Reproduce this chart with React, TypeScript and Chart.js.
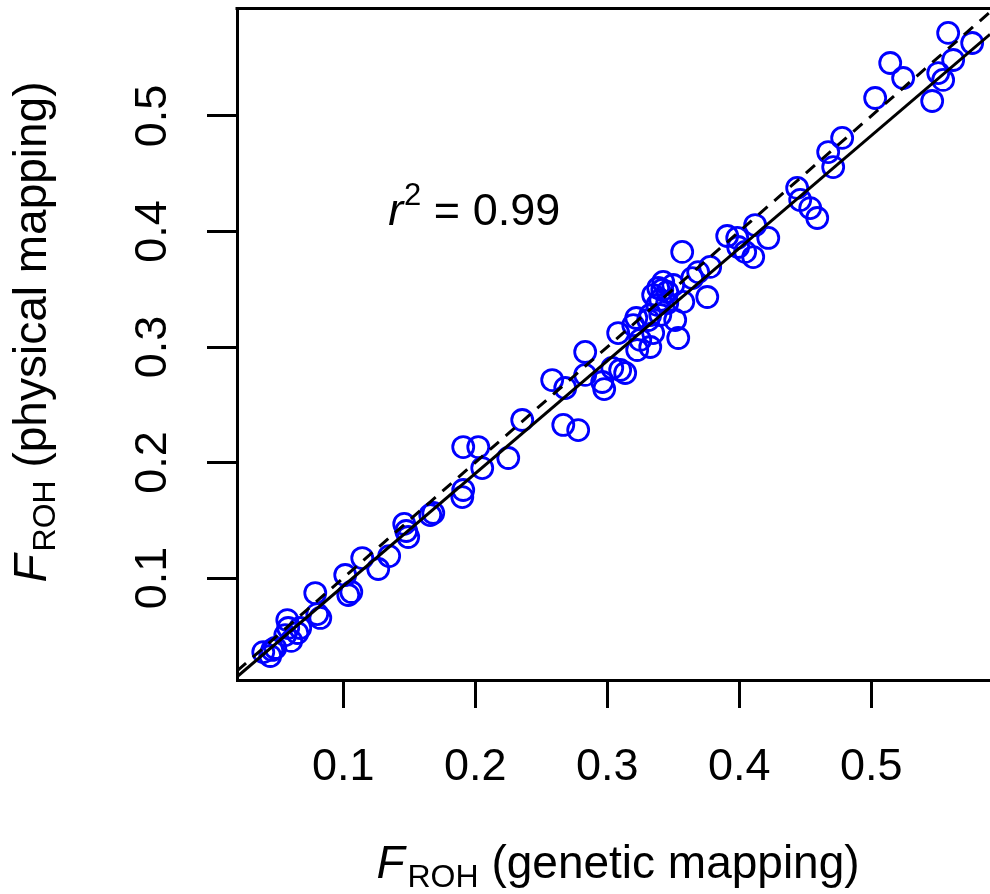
import React, { useEffect, useRef } from "react";
import { Chart, registerables } from "chart.js";

Chart.register(...registerables);

// F_ROH from genetic mapping (x) and physical mapping (y)
const geneticF = [
  0.0394, 0.0447, 0.0485, 0.0462, 0.0576, 0.0583, 0.0606, 0.0561, 0.0674, 0.0652,
  0.0803, 0.0826, 0.0788, 0.1015, 0.1038, 0.1061, 0.1144, 0.1265, 0.1348, 0.1462,
  0.1477, 0.1492, 0.1659, 0.1682, 0.1909, 0.2023, 0.2053, 0.1909, 0.1902, 0.2250,
  0.2356, 0.2583, 0.2682, 0.2667, 0.2780, 0.2833, 0.2833, 0.2962, 0.2977, 0.3038,
  0.3098, 0.3136, 0.3083, 0.3197, 0.3227, 0.3250, 0.3326, 0.3348, 0.3311, 0.3402,
  0.3515, 0.3538, 0.3220, 0.3326, 0.3379, 0.3455, 0.3576, 0.3424, 0.3386, 0.3348,
  0.3455, 0.3402, 0.3500, 0.3417, 0.3568, 0.3689, 0.3780, 0.3644, 0.3758, 0.3909,
  0.3985, 0.3992, 0.4045, 0.4106, 0.4121, 0.4220, 0.4439, 0.4462, 0.4538, 0.4591,
  0.4674, 0.4712, 0.4780, 0.5030, 0.5144, 0.5242, 0.5462, 0.5508, 0.5545, 0.5621,
  0.5583, 0.5765,
];
const physicalF = [
  0.0359, 0.0325, 0.0394, 0.0377, 0.0636, 0.0567, 0.0455, 0.0506, 0.0567, 0.0524,
  0.0688, 0.0654, 0.0870, 0.1026, 0.0853, 0.0879, 0.1173, 0.1078, 0.1190, 0.1468,
  0.1407, 0.1355, 0.1545, 0.1563, 0.2134, 0.2134, 0.1952, 0.1762, 0.1701, 0.2039,
  0.2368, 0.2714, 0.2645, 0.2325, 0.2281, 0.2957, 0.2758, 0.2697, 0.2636, 0.2818,
  0.2801, 0.2775, 0.3121, 0.3190, 0.2974, 0.3061, 0.3000, 0.3121, 0.3234, 0.3277,
  0.3234, 0.3078, 0.3251, 0.3277, 0.3364, 0.3381, 0.3390, 0.3563, 0.3511, 0.3450,
  0.3476, 0.3407, 0.3537, 0.3494, 0.3823, 0.3649, 0.3693, 0.3597, 0.3433, 0.3961,
  0.3944, 0.3866, 0.3823, 0.3779, 0.4056, 0.3944, 0.4377, 0.4273, 0.4203, 0.4117,
  0.4688, 0.4558, 0.4810, 0.5156, 0.5459, 0.5329, 0.5130, 0.5372, 0.5312, 0.5485,
  0.5719, 0.5632,
];

const xTicks = [0.1, 0.2, 0.3, 0.4, 0.5];
const yTicks = [0.1, 0.2, 0.3, 0.4, 0.5];
const xRange = [0.0195, 0.59];
const yRange = [0.0117, 0.5935];

// fitted regression (solid) and identity (dashed)
const fitSlope = 0.975;
const fitIntercept = -0.0045;
const r2Text = "0.99";
const r2Anchor = [0.134, 0.4056];

const FONT = "'Liberation Sans', Arial, Helvetica, sans-serif";
const BIG = 45;
const TITLE = 46;
const SMALL = 31;

type Seg = { text: string; italic?: boolean; size: number; dy?: number; gap?: number };

function drawRich(ctx: CanvasRenderingContext2D, segs: Seg[], x: number, y: number, align: "left" | "center") {
  const fontOf = (s: Seg) => `${s.italic ? "italic " : ""}${s.size}px ${FONT}`;
  let total = 0;
  for (const s of segs) {
    ctx.font = fontOf(s);
    total += (s.gap || 0) + ctx.measureText(s.text).width;
  }
  let cx = align === "center" ? x - total / 2 : x;
  ctx.textAlign = "left";
  ctx.textBaseline = "alphabetic";
  ctx.fillStyle = "#000";
  for (const s of segs) {
    ctx.font = fontOf(s);
    cx += s.gap || 0;
    ctx.fillText(s.text, cx, y + (s.dy || 0));
    cx += ctx.measureText(s.text).width;
  }
}

const decorPlugin = {
  id: "decor",
  afterDraw(chart: any) {
    const ctx: CanvasRenderingContext2D = chart.ctx;
    const { left, right, top } = chart.chartArea;
    const xs = chart.scales.x;
    const ys = chart.scales.y;
    ctx.save();
    // top frame line
    ctx.strokeStyle = "#000";
    ctx.lineWidth = 3;
    ctx.beginPath();
    ctx.moveTo(left - 1.5, top + 0.5);
    ctx.lineTo(right + 2, top + 0.5);
    ctx.stroke();

    // r^2 annotation
    drawRich(
      ctx,
      [
        { text: "r", italic: true, size: BIG },
        { text: "2", size: SMALL, dy: -20, gap: 1 },
        { text: " = " + r2Text, size: BIG },
      ],
      xs.getPixelForValue(r2Anchor[0]),
      ys.getPixelForValue(r2Anchor[1]),
      "left"
    );

    // x title
    drawRich(
      ctx,
      [
        { text: "F", italic: true, size: TITLE },
        { text: "ROH", size: SMALL + 1, dy: 9, gap: 3 },
        { text: " (genetic mapping)", size: TITLE },
      ],
      618,
      878,
      "center"
    );

    // y title (rotated)
    ctx.translate(46, 332);
    ctx.rotate(-Math.PI / 2);
    drawRich(
      ctx,
      [
        { text: "F", italic: true, size: TITLE },
        { text: "ROH", size: SMALL + 1, dy: 9, gap: 3 },
        { text: " (physical mapping)", size: TITLE },
      ],
      0,
      0,
      "center"
    );
    ctx.restore();
  },
};

export default function App() {
  const ref = useRef<HTMLCanvasElement>(null);
  useEffect(() => {
    const points = geneticF.map((g, i) => ({ x: g, y: physicalF[i] }));
    const identity = [
      { x: xRange[0], y: xRange[0] },
      { x: Math.min(xRange[1], yRange[1]), y: Math.min(xRange[1], yRange[1]) },
    ];
    const fit = [
      { x: xRange[0], y: fitIntercept + fitSlope * xRange[0] },
      { x: xRange[1], y: fitIntercept + fitSlope * xRange[1] },
    ];
    const chart = new Chart(ref.current!, {
      type: "scatter",
      data: {
        datasets: [
          {
            data: identity,
            showLine: true,
            borderColor: "#000",
            borderWidth: 3,
            borderDash: [12, 9],
            pointRadius: 0,
            order: 0,
          } as any,
          {
            data: fit,
            showLine: true,
            borderColor: "#000",
            borderWidth: 3,
            pointRadius: 0,
            order: 0,
          } as any,
          {
            data: points,
            pointStyle: "circle",
            pointRadius: 10.5,
            pointBorderWidth: 2.8,
            borderWidth: 2.8,
            borderColor: "#0000FF",
            backgroundColor: "rgba(0,0,0,0)",
            pointBackgroundColor: "rgba(0,0,0,0)",
            order: 1,
          } as any,
        ],
      },
      options: {
        animation: false,
        responsive: false,
        maintainAspectRatio: false,
        layout: { autoPadding: false, padding: { top: 8, left: 0, right: 0, bottom: 0 } },
        plugins: { legend: { display: false }, tooltip: { enabled: false }, title: { display: false } },
        scales: {
          x: {
            type: "linear",
            position: "bottom",
            min: xRange[0],
            max: xRange[1],
            afterBuildTicks: (s: any) => {
              s.ticks = xTicks.map((v) => ({ value: v }));
            },
            afterFit: (s: any) => {
              s.height = 214;
              s.paddingLeft = 0;
              s.paddingRight = 0;
            },
            border: { display: true, color: "#000", width: 3 },
            grid: {
              display: true,
              drawOnChartArea: false,
              drawTicks: true,
              tickLength: 28,
              tickWidth: 3,
              tickColor: "#000",
              color: "#000",
            },
            ticks: {
              padding: 33,
              color: "#000",
              font: { family: FONT, size: BIG },
              maxRotation: 0,
              minRotation: 0,
              callback: (v: any) => Number(v).toFixed(1),
            },
          },
          y: {
            type: "linear",
            position: "left",
            min: yRange[0],
            max: yRange[1],
            afterBuildTicks: (s: any) => {
              s.ticks = yTicks.map((v) => ({ value: v }));
            },
            afterFit: (s: any) => {
              s.width = 237;
              s.paddingTop = 0;
              s.paddingBottom = 0;
            },
            border: { display: true, color: "#000", width: 3 },
            grid: {
              display: true,
              drawOnChartArea: false,
              drawTicks: true,
              tickLength: 30,
              tickWidth: 3,
              tickColor: "#000",
              color: "#000",
            },
            ticks: {
              padding: 22,
              color: "#000",
              crossAlign: "center",
              font: { family: FONT, size: BIG },
              minRotation: 90,
              maxRotation: 90,
              callback: (v: any) => Number(v).toFixed(1),
            },
          },
        },
      },
      plugins: [decorPlugin],
    });
    return () => chart.destroy();
  }, []);
  return (
    <div style={{ position: "absolute", left: 0, top: 0, width: 990, height: 894, overflow: "hidden" }}>
      <canvas ref={ref} width={990} height={894} style={{ display: "block", width: 990, height: 894 }} />
    </div>
  );
}
